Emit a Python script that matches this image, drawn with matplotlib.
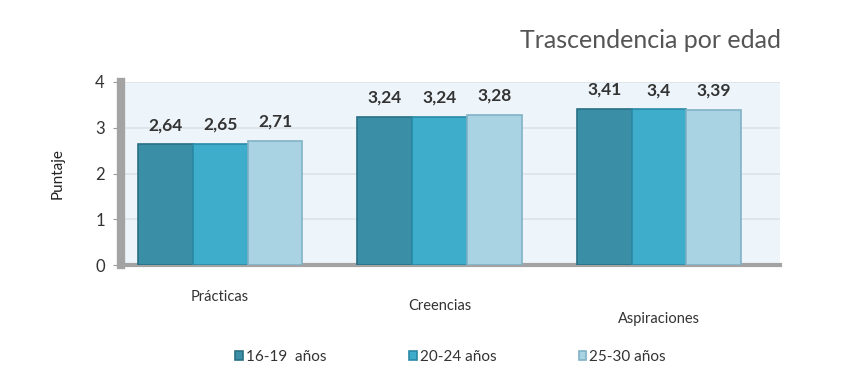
import matplotlib
matplotlib.use("Agg")
import matplotlib.pyplot as plt
import matplotlib.transforms as mtransforms
import numpy as np

categories = ["Prácticas", "Creencias", "Aspiraciones"]
series_names = ["16-19  años", "20-24 años", "25-30 años"]
values_16_19 = [2.64, 3.24, 3.41]
values_20_24 = [2.65, 3.24, 3.40]
values_25_30 = [2.71, 3.28, 3.39]
labels_16_19 = ["2,64", "3,24", "3,41"]
labels_20_24 = ["2,65", "3,24", "3,4"]
labels_25_30 = ["2,71", "3,28", "3,39"]
yticks = [0, 1, 2, 3, 4]

colors = ["#3a8ea6", "#3eadcc", "#a9d2e2"]
edges = ["#2a6f84", "#2b8aa6", "#7fb2c6"]

plt.rcParams['font.family'] = ['Lato', 'DejaVu Sans']

fig = plt.figure(figsize=(8.55, 3.9), dpi=100)
ax = fig.add_axes([0.142, 0.32, 0.77, 0.47])
ax.set_facecolor("#eef5fa")

x = np.arange(len(categories))
w = 0.25
series = [values_16_19, values_20_24, values_25_30]
labels = [labels_16_19, labels_20_24, labels_25_30]
for i, (vals, labs) in enumerate(zip(series, labels)):
    pos = x + (i - 1) * w
    bars = ax.bar(pos, vals, width=w, color=colors[i], edgecolor=edges[i],
                  linewidth=1.2, label=series_names[i], zorder=3)
    for b, lab in zip(bars, labs):
        ax.annotate(lab, (b.get_x() + b.get_width() / 2, b.get_height()),
                    xytext=(0, 8), textcoords="offset points",
                    ha="center", va="bottom", fontsize=12.5, fontweight="bold",
                    color="#333333")

ax.set_ylim(0, 4)
ax.set_xlim(-0.45, 2.55)
ax.set_yticks(yticks)
ax.set_yticklabels([str(t) for t in yticks], fontsize=12, color="#333333")
ax.yaxis.grid(True, color="#dde3e8", linewidth=1.2, zorder=0)
ax.set_axisbelow(True)
for s in ["top", "right"]:
    ax.spines[s].set_visible(False)
ax.spines["left"].set_color("#a3a3a3")
ax.spines["left"].set_linewidth(6)
ax.spines["bottom"].set_color("#a3a3a3")
ax.spines["bottom"].set_linewidth(3)
ax.tick_params(axis="y", length=6, color="#999999", pad=6)
ax.tick_params(axis="x", length=0, pad=18)
ax.set_xticks(x)
ax.set_xticklabels(categories, fontsize=10.5, color="#333333")
offsets = [0, 6, 16]
for lab, dy in zip(ax.get_xticklabels(), offsets):
    lab.set_transform(lab.get_transform() +
                      mtransforms.ScaledTranslation(0, -dy / 72, fig.dpi_scale_trans))

ax.set_ylabel("Puntaje", fontsize=11, color="#222222", labelpad=22)

fig.text(0.913, 0.895, "Trascendencia por edad", ha="right", va="center",
         fontsize=18, color="#555555")

fig.legend(loc="center", bbox_to_anchor=(0.527, 0.085), ncol=3, frameon=False,
           fontsize=11, handlelength=0.5, handleheight=0.5, handletextpad=0.2,
           columnspacing=5.4, labelcolor="#333333")

fig.savefig("out.png", dpi=100)
